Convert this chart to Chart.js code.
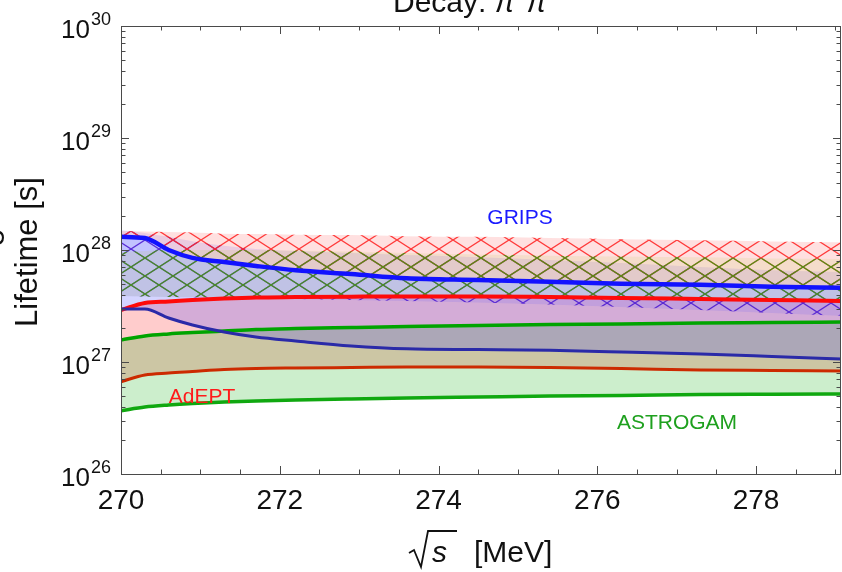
<!DOCTYPE html>
<html>
<head>
<meta charset="utf-8">
<script src="https://cdn.jsdelivr.net/npm/chart.js@4.4.0/dist/chart.umd.min.js"></script>
<style>
    html, body { margin: 0; padding: 0; background: #fff; }
    #wrap { width: 842px; height: 572px; }
</style>
</head>
<body>
<div id="wrap"><canvas id="chart" width="842" height="572"></canvas></div>
<script>
// sqrt(s) in MeV, shared by every curve
const ENERGY = [270, 270.3, 270.6, 270.9, 271.3, 271.7, 272.2, 272.9, 273.6, 274.5, 275.4, 276.3, 277.3, 278.2, 279.1];

// lifetime bands [s]
const GRIPS_UPPER = [1.31e28, 1.28e28, 1.0e28, 8.5e27, 7.8e27, 7.2e27, 6.6e27, 6.1e27, 5.6e27, 5.4e27, 5.2e27, 5.0e27, 4.9e27, 4.7e27, 4.6e27];
const GRIPS_LOWER = [2.97e27, 2.97e27, 2.47e27, 2.14e27, 1.85e27, 1.67e27, 1.54e27, 1.39e27, 1.31e27, 1.29e27, 1.27e27, 1.23e27, 1.18e27, 1.12e27, 1.06e27];
const ADEPT_UPPER = [2.91e27, 3.37e27, 3.47e27, 3.58e27, 3.69e27, 3.77e27, 3.80e27, 3.83e27, 3.85e27, 3.85e27, 3.80e27, 3.73e27, 3.65e27, 3.58e27, 3.51e27];
const ADEPT_LOWER = [6.67e26, 7.66e26, 7.98e26, 8.23e26, 8.57e26, 8.75e26, 8.84e26, 8.93e26, 9.02e26, 9.02e26, 8.93e26, 8.75e26, 8.48e26, 8.40e26, 8.31e26];
const ASTROGAM_UPPER = [1.57e27, 1.71e27, 1.78e27, 1.83e27, 1.89e27, 1.95e27, 1.99e27, 2.03e27, 2.07e27, 2.12e27, 2.16e27, 2.18e27, 2.23e27, 2.25e27, 2.28e27];
const ASTROGAM_LOWER = [3.67e26, 3.96e26, 4.13e26, 4.26e26, 4.39e26, 4.49e26, 4.58e26, 4.68e26, 4.77e26, 4.87e26, 4.97e26, 5.02e26, 5.13e26, 5.16e26, 5.18e26];

// hatched regions
const ADEPT_HATCH_TOP = [1.48e28, 1.46e28, 1.45e28, 1.43e28, 1.40e28, 1.39e28, 1.37e28, 1.36e28, 1.33e28, 1.31e28, 1.28e28, 1.25e28, 1.22e28, 1.19e28, 1.17e28];
const ASTROGAM_HATCH_TOP = [9.6e27, 9.8e27, 1.0e28, 1.0e28, 1.0e28, 1.0e28, 9.9e27, 9.7e27, 9.4e27, 9.1e27, 8.9e27, 8.75e27, 8.6e27, 8.4e27, 8.3e27];
const ASTROGAM_HATCH_BOTTOM = [3.88e27, 3.84e27, 3.80e27, 3.80e27, 3.80e27, 3.80e27, 3.80e27, 3.80e27, 3.80e27, 3.77e27, 3.73e27, 3.69e27, 3.65e27, 3.62e27, 3.58e27];
const GRIPS_HATCH_TOP = [1.51e28, 1.42e28, 1.31e28, 1.20e28, 1.09e28, 1.02e28, 9.8e27, 9.4e27, 9.0e27, 8.6e27, 8.15e27, 7.66e27, 7.05e27, 6.6e27, 6.37e27];
const GRIPS_HATCH_BOTTOM = [3.88e27, 3.84e27, 3.80e27, 3.77e27, 3.73e27, 3.69e27, 3.65e27, 3.58e27, 3.51e27, 3.40e27, 3.26e27, 3.10e27, 2.91e27, 2.74e27, 2.58e27];

const X_TICKS = [270, 272, 274, 276, 278];
const Y_DECADES = [26, 27, 28, 29, 30];

const FONT = "'Liberation Sans', Arial, sans-serif";
const FRAMECOLOR = "#4a4a4a";

function toPoints(values) {
    return ENERGY.map((x, i) => ({x: x, y: values[i]}));
}

function makeHatch(tint, lineColor) {
    const tile = document.createElement("canvas");
    tile.width = 28;
    tile.height = 18;
    const c = tile.getContext("2d");
    c.fillStyle = tint;
    c.fillRect(0, 0, 28, 18);
    c.strokeStyle = lineColor;
    c.lineWidth = 1.3;
    c.beginPath();
    for (const dx of [-28, 0, 28]) {
        c.moveTo(dx, 0);
        c.lineTo(dx + 28, 18);
        c.moveTo(dx, 18);
        c.lineTo(dx + 28, 0);
    }
    c.stroke();
    const pattern = c.createPattern(tile, "repeat");
    pattern.setTransform(new DOMMatrix().translate(5, 6));
    return pattern;
}

function curve(values, color, width, fill, background) {
    return {
        data: toPoints(values),
        borderColor: color,
        borderWidth: width,
        pointRadius: 0,
        cubicInterpolationMode: "monotone",
        fill: fill,
        backgroundColor: background || "transparent"
    };
}

function edge(values, fill, background) {
    return curve(values, "transparent", 0, fill, background);
}

// fills are painted from the last index to the first, so hatches come last
const datasets = [
    edge(ASTROGAM_HATCH_TOP, 1, makeHatch("rgba(170, 190, 40, 0.12)", "rgba(70, 150, 20, 0.9)")),   // 0
    edge(ASTROGAM_HATCH_BOTTOM, false),                                                           // 1
    edge(ADEPT_HATCH_TOP, 5, makeHatch("rgba(255, 0, 0, 0.12)", "rgba(255, 40, 40, 0.9)")),          // 2
    edge(GRIPS_HATCH_TOP, 4, makeHatch("rgba(60, 60, 255, 0.12)", "rgba(80, 30, 210, 0.9)")),        // 3
    edge(GRIPS_HATCH_BOTTOM, false),                                                              // 4
    curve(GRIPS_UPPER, "#1212ff", 4.5, 6, "rgba(40, 40, 255, 0.2)"),                               // 5
    curve(GRIPS_LOWER, "#2a2aa8", 3, false),                                                      // 6
    curve(ASTROGAM_UPPER, "#00a400", 3.5, 8, "rgba(0, 170, 0, 0.2)"),                              // 7
    curve(ASTROGAM_LOWER, "#10a810", 3.5, false),                                                 // 8
    curve(ADEPT_UPPER, "#ff0a0a", 4, 10, "rgba(255, 0, 0, 0.2)"),                                  // 9
    curve(ADEPT_LOWER, "#cc2a00", 3, false)                                                       // 10
];

function drawSup(ctx, base, sup, x, y, baseSize, supSize, rise) {
    // right aligned at x
    ctx.font = supSize + "px " + FONT;
    const supWidth = ctx.measureText(sup).width;
    ctx.textAlign = "right";
    ctx.fillText(sup, x, y - rise);
    ctx.font = baseSize + "px " + FONT;
    ctx.fillText(base, x - supWidth - 1, y);
}

const framePlugin = {
    id: "frame",
    afterDraw(chart) {
        const ctx = chart.ctx;
        const area = chart.chartArea;
        const xScale = chart.scales.x;
        const yScale = chart.scales.y;
        ctx.save();

        ctx.strokeStyle = FRAMECOLOR;
        ctx.lineWidth = 1;
        ctx.strokeRect(area.left + 0.5, area.top + 0.5, area.right - area.left - 1, area.bottom - area.top);

        ctx.beginPath();
        for (let v = 270; v <= 279.05; v += 0.5) {
            const px = Math.round(xScale.getPixelForValue(v)) + 0.5;
            const len = v % 2 === 0 ? 8 : 4.5;
            ctx.moveTo(px, area.bottom);
            ctx.lineTo(px, area.bottom - len);
            ctx.moveTo(px, area.top);
            ctx.lineTo(px, area.top + len);
        }
        for (const d of Y_DECADES) {
            for (let m = 1; m <= 9; m++) {
                const v = m * Math.pow(10, d);
                if (v > 1.0001e30) continue;
                const py = Math.round(yScale.getPixelForValue(v)) + 0.5;
                const len = m === 1 ? 8 : 4.5;
                ctx.moveTo(area.left, py);
                ctx.lineTo(area.left + len, py);
                ctx.moveTo(area.right, py);
                ctx.lineTo(area.right - len, py);
            }
        }
        ctx.stroke();

        ctx.fillStyle = "#111";
        ctx.textBaseline = "alphabetic";
        for (const d of Y_DECADES) {
            const py = yScale.getPixelForValue(Math.pow(10, d));
            drawSup(ctx, "10", String(d), area.left - 10, py + 12, 26, 18, 13);
        }

        // labels of the bands
        ctx.textAlign = "center";
        ctx.font = "21px " + FONT;
        ctx.fillStyle = "#1a1aff";
        ctx.fillText("GRIPS", 520, 224);
        ctx.fillStyle = "#ff1a1a";
        ctx.fillText("AdEPT", 202, 403);
        ctx.fillStyle = "#1ea01e";
        ctx.fillText("ASTROGAM", 677, 429);

        // axis titles
        ctx.fillStyle = "#111";
        ctx.save();
        ctx.translate(37, 252);
        ctx.rotate(-Math.PI / 2);
        ctx.font = "31px " + FONT;
        ctx.textAlign = "center";
        ctx.fillText("Lifetime [s]", 0, 0);
        ctx.restore();
        ctx.save();
        ctx.translate(4, 238);
        ctx.rotate(-Math.PI / 2);
        ctx.font = "31px " + FONT;
        ctx.textAlign = "center";
        ctx.fillText("e", 0, 0);
        ctx.restore();

        ctx.strokeStyle = "#111";
        ctx.lineWidth = 1.8;
        ctx.beginPath();
        ctx.moveTo(409, 553);
        ctx.lineTo(414, 550);
        ctx.lineTo(421, 567);
        ctx.lineTo(428, 531);
        ctx.lineTo(457, 531);
        ctx.stroke();
        ctx.textAlign = "left";
        ctx.font = "italic 30px " + FONT;
        ctx.fillText("s", 432, 562);
        ctx.font = "30px " + FONT;
        ctx.fillText("[MeV]", 474, 562);

        // title, mostly above the canvas
        let tx = 393;
        const parts = [
            ["Decay: ", "30px", 0],
            ["\u03c0", "italic 30px", 0],
            ["+", "20px", 12],
            ["\u03c0", "italic 30px", 0],
            ["\u2212", "20px", 12]
        ];
        for (const [text, font, rise] of parts) {
            ctx.font = font + " " + FONT;
            ctx.fillText(text, tx, 12 - rise);
            tx += ctx.measureText(text).width;
        }
        ctx.restore();
    }
};

new Chart(document.querySelector("#chart").getContext("2d"), {
    type: "line",
    data: {datasets: datasets},
    options: {
        responsive: false,
        animation: false,
        layout: {padding: {top: 26, right: 1, left: 0, bottom: 0}},
        plugins: {
            legend: {display: false},
            tooltip: {enabled: false},
            filler: {drawTime: "beforeDatasetsDraw"}
        },
        scales: {
            x: {
                type: "linear",
                min: 270,
                max: 279.07,
                grid: {display: false, drawTicks: false},
                border: {display: false},
                afterBuildTicks: scale => {
                    scale.ticks = X_TICKS.map(v => ({value: v}));
                },
                afterFit: scale => {
                    scale.height = 98;
                },
                ticks: {
                    color: "#111",
                    padding: 10,
                    maxRotation: 0,
                    font: {family: FONT, size: 28}
                }
            },
            y: {
                type: "logarithmic",
                min: 1e26,
                max: 1e30,
                grid: {display: false, drawTicks: false},
                border: {display: false},
                ticks: {display: false},
                afterFit: scale => {
                    scale.width = 121;
                }
            }
        }
    },
    plugins: [framePlugin]
});
</script>
</body>
</html>
